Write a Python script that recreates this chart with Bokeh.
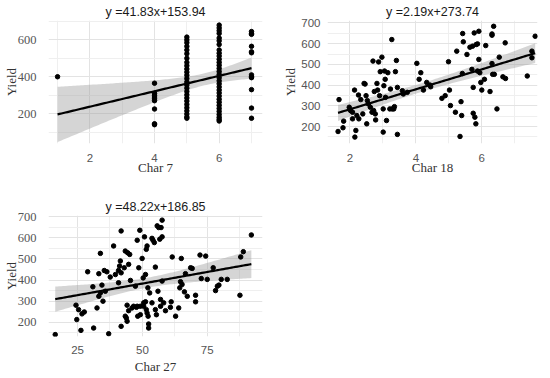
import numpy as np
from bokeh.plotting import figure
from bokeh.layouts import column, row
from bokeh.models import FixedTicker, Title
from bokeh.embed import file_html
from bokeh.resources import INLINE

# ---------------- data ----------------
# Panel 1: Char 7 (discrete) vs Yield
c7_y1 = [400]
c7_y4 = [365, 310, 300, 290, 280, 270, 225, 145, 140]
c7_y5 = [615, 600, 585, 565, 545, 525, 500, 478, 460, 442, 425, 408, 390, 372,
         355, 338, 320, 302, 285, 268, 250, 232, 215, 198, 182, 175]
c7_y6 = [680, 665, 650, 635, 610, 595, 575, 545, 528, 512, 495, 478, 462, 445,
         428, 412, 395, 378, 362, 345, 328, 312, 295, 278, 262, 245, 228, 212,
         195, 180, 168, 160]
c7_y7 = [645, 635, 630, 565, 535, 530, 410, 400, 395, 330, 230, 175]
c7_x = ([1] * len(c7_y1) + [4] * len(c7_y4) + [5] * len(c7_y5) +
        [6] * len(c7_y6) + [7] * len(c7_y7))
c7_y = c7_y1 + c7_y4 + c7_y5 + c7_y6 + c7_y7

# Panel 2: Char 18 vs Yield
c18_x = [1.64, 1.67, 1.79, 1.81, 1.98, 2.02, 2.08, 2.08, 2.14, 2.18, 2.15, 2.21,
         2.26, 2.27, 2.33, 2.39, 2.43, 2.46, 2.49, 2.51, 2.53, 2.56, 2.62, 2.67,
         2.70, 2.72, 2.74, 2.77, 2.78, 2.82, 2.84, 2.87, 2.90, 2.92, 2.97, 3.01,
         3.01, 3.03, 3.05, 3.07, 3.08, 3.11, 3.15, 3.21, 3.23, 3.27, 3.28, 3.33,
         3.35, 3.38, 3.41, 3.44, 3.44, 3.59, 3.62, 3.74, 4.03, 4.10, 4.15, 4.23,
         4.33, 4.43, 4.45, 4.79, 4.89, 4.99, 5.02, 5.05, 5.20, 5.24, 5.34, 5.37,
         5.39, 5.41, 5.42, 5.44, 5.55, 5.64, 5.70, 5.72, 5.74, 5.74, 5.77, 5.79,
         5.82, 5.83, 5.87, 5.87, 5.91, 5.91, 5.94, 5.97, 6.00, 6.08, 6.12, 6.25,
         6.31, 6.31, 6.31, 6.33, 6.36, 6.38, 6.46, 6.53, 6.64, 6.71, 6.72, 7.38,
         7.52, 7.52, 7.62]
c18_y = [176, 330, 194, 226, 293, 277, 269, 237, 376, 181, 149, 253,
         352, 237, 330, 261, 408, 405, 349, 213, 325, 309, 293, 269,
         516, 277, 369, 261, 232, 408, 376, 512, 349, 465, 535, 173,
         285, 397, 468, 428, 341, 229, 460, 285, 381, 620, 285, 285,
         296, 465, 519, 389, 162, 373, 357, 365, 505, 428, 460, 376,
         413, 400, 392, 336, 349, 513, 376, 301, 269, 564, 152, 320,
         253, 456, 649, 609, 548, 583, 476, 588, 389, 264, 652, 245,
         213, 596, 599, 468, 660, 524, 460, 413, 376, 428, 591, 369,
         647, 641, 504, 452, 684, 452, 285, 535, 440, 604, 432, 444,
         564, 532, 636]

# Panel 3: Char 27 vs Yield
c27_x = [16.4, 24.4, 24.7, 25.4, 26.3, 26.7, 27.6, 28.9, 31.2, 30.9, 32.5, 33.2,
         33.8, 33.2, 33.8, 34.4, 34.8, 35.3, 35.7, 36.3, 37.0, 37.6, 38.9, 39.6,
         40.8, 40.8, 41.2, 41.5, 41.8, 41.8, 41.8, 43.0, 43.4, 43.4, 43.8, 44.1,
         44.3, 44.1, 44.7, 45.1, 44.7, 45.4, 46.0, 46.6, 47.3, 47.7, 48.0, 48.0,
         48.2, 48.6, 49.0, 49.2, 49.2, 49.9, 50.3, 50.5, 50.5, 50.8, 51.2, 51.2,
         51.5, 51.5, 51.8, 51.8, 52.1, 52.2, 52.4, 52.4, 52.8, 53.7, 53.7, 54.1,
         54.6, 55.0, 55.0, 55.4, 55.7, 56.0, 56.3, 56.7, 57.0, 57.0, 57.2, 57.6,
         57.6, 57.6, 58.2, 58.9, 60.8, 61.1, 61.5, 62.8, 64.0, 64.4, 64.7, 65.0,
         65.3, 66.2, 66.6, 67.3, 68.6, 69.2, 70.5, 70.5, 72.2, 72.7, 74.4, 75.0,
         77.3, 78.2, 78.9, 79.5, 80.4, 82.7, 87.6, 87.9, 88.9, 92.0]
c27_y = [142, 281, 213, 260, 162, 240, 249, 439, 173, 368, 268, 430,
         526, 323, 339, 376, 300, 445, 347, 439, 146, 414, 561, 426,
         387, 445, 466, 490, 632, 181, 434, 458, 537, 229, 221, 205,
         529, 281, 474, 521, 255, 398, 268, 276, 371, 271, 276, 588,
         229, 458, 635, 276, 236, 502, 410, 292, 276, 604, 297, 426,
         545, 260, 561, 244, 363, 229, 192, 173, 339, 597, 292, 588,
         577, 260, 461, 236, 656, 347, 648, 593, 308, 276, 648, 683,
         604, 395, 292, 255, 271, 297, 509, 229, 268, 363, 392, 502,
         379, 344, 430, 323, 458, 455, 328, 297, 518, 407, 513, 403,
         458, 350, 371, 376, 403, 403, 328, 509, 534, 613]

# fitted lines as drawn (slope, intercept) and the titles as printed
fit_slope = [41.83, 48.22, 2.19]
fit_intercept = [153.94, 186.85, 273.74]
titles = ["y =41.83x+153.94", "y =2.19x+273.74", "y =48.22x+186.85"]
x_labels = ["Char 7", "Char 18", "Char 27"]

x_ticks = [[2, 4, 6], [2, 4, 6], [25, 50, 75]]
x_minor = [[1, 3, 5, 7], [1, 3, 5, 7], [12.5, 37.5, 62.5, 87.5]]
y_ticks = [[200, 400, 600], [200, 300, 400, 500, 600, 700], [200, 300, 400, 500, 600, 700]]
y_minor = [[100, 300, 500, 700], [150, 250, 350, 450, 550, 650],
           [150, 250, 350, 450, 550, 650]]
x_ranges = [(0.72, 7.34), (1.32, 7.69), (13.8, 96.3)]
y_ranges = [(38, 705), (118, 712), (133, 705)]

SANS = "Liberation Sans"
SERIF = "Liberation Serif"


def make_panel(i, xs, ys, w, h, mb, ytick_font, xstand, ystand):
    xs = np.asarray(xs, float)
    ys = np.asarray(ys, float)
    p = figure(width=w, height=h, output_backend="svg", toolbar_location=None,
               x_range=x_ranges[i], y_range=y_ranges[i],
               min_border_left=mb[0], min_border_right=mb[1],
               min_border_top=mb[2], min_border_bottom=mb[3])
    p.title = Title(text=titles[i], align="center", text_font=SANS,
                    text_font_size="12.5px", text_font_style="normal",
                    text_color="#1a1a1a", standoff=3)
    p.outline_line_color = None
    p.background_fill_color = "white"
    p.border_fill_color = "white"

    # fit band (95% confidence of mean) around fitted line
    b = fit_slope[i]
    a = fit_intercept[i]
    n = len(xs)
    resid = ys - (a + b * xs)
    s = np.sqrt(np.sum(resid ** 2) / (n - 2))
    xbar = xs.mean()
    sxx = np.sum((xs - xbar) ** 2)
    xg = np.linspace(xs.min(), xs.max(), 100)
    yg = a + b * xg
    se = 1.98 * s * np.sqrt(1.0 / n + (xg - xbar) ** 2 / sxx)
    p.varea(x=xg, y1=yg - se, y2=yg + se, fill_color="#9a9a9a", fill_alpha=0.42)
    p.scatter(xs, ys, size=4.5, color="black")
    p.line(xg, yg, line_color="black", line_width=2.2)

    p.xaxis.ticker = FixedTicker(ticks=x_ticks[i], minor_ticks=x_minor[i])
    p.yaxis.ticker = FixedTicker(ticks=y_ticks[i], minor_ticks=y_minor[i])
    for ax in (p.xaxis[0], p.yaxis[0]):
        ax.axis_line_color = None
        ax.major_tick_line_color = None
        ax.minor_tick_line_color = None
        ax.major_label_text_color = "#555555"
        ax.axis_label_text_font = SERIF
        ax.axis_label_text_font_style = "normal"
        ax.axis_label_text_font_size = "13px"
        ax.axis_label_text_color = "#333333"
    p.xaxis.major_label_standoff = xstand[0]
    p.xaxis.axis_label_standoff = xstand[1]
    p.yaxis.major_label_standoff = ystand[0]
    p.yaxis.axis_label_standoff = ystand[1]
    p.xaxis.major_label_text_font = SANS
    p.xaxis.major_label_text_font_size = "11.5px"
    p.yaxis.major_label_text_font = ytick_font
    p.yaxis.major_label_text_font_size = "12.5px" if ytick_font == SERIF else "11.5px"
    p.xaxis.axis_label = x_labels[i]
    p.yaxis.axis_label = "Yield"

    p.grid.grid_line_color = "#e3e3e3"
    p.grid.grid_line_width = 1
    p.grid.minor_grid_line_color = "#efefef"
    p.grid.minor_grid_line_width = 1
    return p


p1 = make_panel(0, c7_x, c7_y, 275, 186, (47, 13, 20, 43), SERIF, (4, -5), (6, -4))
p2 = make_panel(1, c18_x, c18_y, 273, 186, (52, 11, 20, 43), SANS, (4, -5), (1, 0))
p3 = make_panel(2, c27_x, c27_y, 275, 190, (47, 13, 29, 39), SERIF, (3, 2), (6, -4))

layout = column(row(p1, p2, spacing=0), p3, spacing=0)

open("out.html", "w").write(file_html(layout, INLINE))
